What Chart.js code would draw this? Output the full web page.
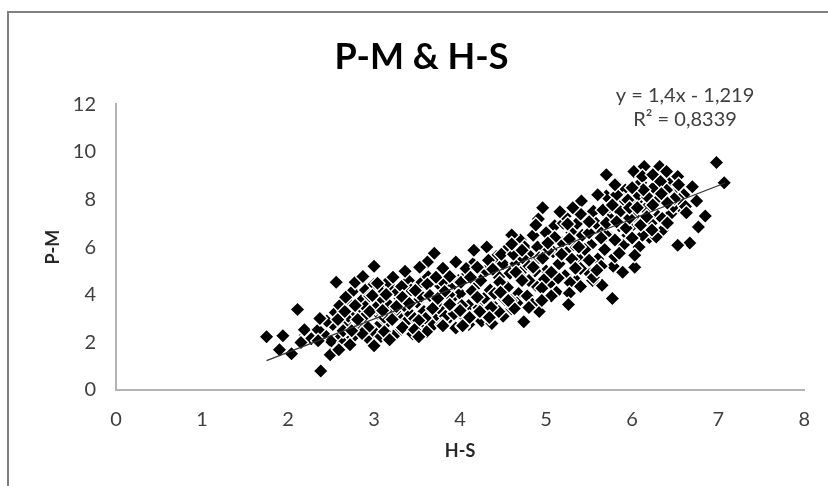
<!DOCTYPE html>
<html>
<head>
<meta charset="utf-8">
<title>P-M & H-S</title>
<script src="https://cdn.jsdelivr.net/npm/chart.js@4"></script>
<style>
  html, body { margin: 0; padding: 0; background: #fff; }
  body { width: 828px; height: 486px; overflow: hidden; position: relative; }
  #frame { position: absolute; left: 7px; top: 11px; right: 0; bottom: 0; border-left: 2px solid #808080; border-top: 2px solid #808080; }
  #box { position: absolute; left: 18px; top: 0; width: 810px; height: 486px; }
</style>
</head>
<body>
<div id="frame"></div>
<div id="box"><canvas id="scatter"></canvas></div>
<script>
// values, x and y go pair by pair
// first two blocks are the half hidden markers, they get painted over by the last block
const hsBack = [
  2.2,2.27,2.43,2.5,2.52,2.45,2.62,2.68,2.7,2.72,2.75,2.8,2.85,2.88,2.9,2.92,
  3.05,3.05,3.07,3.1,3.15,3.18,3.2,3.25,3.28,3.3,3.38,3.4,3.42,3.45,3.5,3.55,
  3.58,3.6,3.65,3.7,3.75,3.78,3.85,3.9,3.92,3.95,4.0,4.05,4.08,4.1,4.15,4.18,
  4.25,4.28,4.35,4.4,4.42,4.45,4.5,4.5,4.55,4.55,4.6,4.65,4.68,4.7,4.75,4.75,
  4.78,4.82,4.85,4.88,4.9,4.92,5.0,5.0,5.05,5.08,5.1,5.12,5.15,5.18,5.2,5.22,
  5.25,5.3,5.35,5.38,5.42,5.45,5.48,5.52,5.55,5.6,5.62,5.65,5.68,5.72,5.75,5.78,
  5.85,5.88,5.9,5.92,6.0,6.05,6.08,6.1,6.15,6.2,6.25,6.3,6.35,6.38,6.42,6.45,
  6.5,6.55,6.6
];
const pmBack = [
  2.3,2.15,2.3,2.05,2.75,2.9,2.25,2.75,3.1,3.6,4.15,3.2,3.75,3.05,4.2,2.2,
  2.7,3.2,3.65,4.2,2.85,3.55,4.3,2.35,3.15,3.85,2.9,4.6,3.2,2.35,3.7,4.5,
  3.3,2.75,4.0,3.05,4.45,3.35,2.95,4.35,3.9,2.6,4.05,3.05,4.85,3.55,5.3,4.35,
  2.9,3.85,4.2,3.5,5.6,4.75,3.1,5.3,4.3,5.95,3.4,5.3,4.05,6.3,5.1,6.0,
  3.95,5.6,6.5,4.4,6.0,3.3,5.0,6.6,4.5,5.8,6.9,4.1,5.3,6.2,7.0,4.8,
  5.8,6.6,4.6,5.5,6.5,7.3,5.0,6.1,7.5,5.5,6.7,4.4,5.9,7.3,6.4,5.2,
  6.9,7.4,6.1,8.4,6.9,7.9,6.0,8.7,7.6,6.4,8.5,7.3,6.7,7.9,8.7,7.4,
  8.3,7.7,8.2
];
const hsMiddle = [
  2.55,2.6,2.65,2.75,2.83,2.9,2.95,3.0,3.02,3.08,3.12,3.16,3.24,3.27,3.32,3.35,
  3.43,3.47,3.55,3.6,3.63,3.68,3.72,3.8,3.83,3.87,3.93,3.98,4.02,4.07,4.1,4.14,
  4.22,4.27,4.3,4.35,4.4,4.45,4.48,4.52,4.58,4.62,4.66,4.7,4.74,4.8,4.84,4.87,
  4.92,4.98,5.02,5.06,5.1,5.14,5.18,5.22,5.28,5.32,5.36,5.4,5.45,5.5,5.54,5.58,
  5.64,5.7,5.74,5.8,5.86,5.9,5.95,6.02,6.07,6.12,6.18,6.22,6.28,6.35,6.4,6.48,
  6.55,6.62
];
const pmMiddle = [
  3.25,3.55,2.0,2.2,2.7,3.5,3.95,2.45,3.45,2.25,3.05,4.55,3.3,4.1,2.55,3.55,
  4.2,3.0,3.95,3.0,4.75,2.7,3.6,4.55,3.1,4.0,3.2,4.6,3.55,5.1,2.75,4.15,
  3.45,4.9,3.3,5.2,4.05,3.3,5.7,3.8,4.9,5.7,3.65,4.75,5.5,5.2,3.6,5.0,
  5.55,4.65,5.85,3.95,6.4,4.7,5.7,7.3,4.5,6.1,7.0,5.1,5.9,6.6,4.6,7.0,
  5.2,6.5,7.7,5.6,7.5,8.0,6.5,7.3,8.2,6.5,8.1,7.0,7.9,7.2,8.4,7.7,
  8.0,7.7
];
const hsFront = [
  1.75,1.94,1.9,2.04,2.11,2.19,2.15,2.35,2.35,2.38,2.49,2.59,2.56,2.58,2.64,2.66,
  2.67,2.78,2.87,3.0,3.0,2.98,2.78,2.95,2.81,2.93,2.72,3.0,2.86,2.74,2.37,
  3.7,3.62,4.16,4.31,3.95,3.8,3.53,3.36,3.22,3.04,3.32,3.72,3.62,3.88,4.01,
  4.2,4.33,4.38,4.24,4.12,3.48,3.14,3.33,3.82,4.2,3.88,3.65,3.74,3.1,3.26,3.68,
  3.52,3.21,4.0,4.11,4.32,4.23,3.33,3.12,3.61,3.47,3.79,4.03,3.52,3.18,4.37,3.41,
  4.96,4.91,5.16,5.41,5.7,5.6,5.5,5.25,5.4,5.31,5.66,5.7,4.88,4.6,4.6,5.02,
  4.72,5.64,5.38,5.27,4.96,5.3,4.85,5.34,5.06,4.65,4.46,4.95,4.8,5.55,5.4,5.27,
  5.26,5.77,4.47,4.59,4.95,4.63,4.8,4.74,4.36,5.5,5.59,4.72,
  6.98,7.07,6.02,6.14,6.32,6.4,6.12,6.24,6.33,6.53,6.54,6.7,5.81,6.13,6.0,6.34,
  6.49,6.75,6.63,6.85,6.77,6.41,6.67,6.53,6.28,6.23,6.1,5.93,6.17,6.24,5.95,5.82,
  5.97,6.0,5.85,6.03,5.89,5.8,5.82,5.77,5.97,6.06,6.03,6.41,5.7,5.8,
  4.34,4.03,3.8,4.56
];
const pmFront = [
  2.24,2.28,1.69,1.52,3.38,2.53,1.99,2.53,2.07,0.8,1.48,1.69,4.52,2.96,2.49,3.3,
  3.89,4.52,4.77,5.2,4.44,3.97,3.55,3.3,2.96,2.62,1.9,1.86,2.37,2.49,3.0,
  5.74,5.37,5.87,6.0,5.37,5.11,5.15,4.99,4.73,4.48,4.35,4.73,4.44,4.77,4.52,
  5.15,5.45,5.07,4.6,4.73,4.18,4.01,3.89,4.14,3.89,3.59,3.97,3.84,3.34,3.51,3.42,
  2.92,2.96,3.34,3.04,3.08,3.3,2.62,2.45,2.45,2.53,2.75,2.66,2.24,2.11,2.79,3.63,
  7.65,7.18,7.48,7.94,8.15,8.2,7.06,6.97,7.39,7.65,7.56,7.01,6.93,6.51,6.13,6.17,
  5.87,6.38,6.0,6.34,5.53,5.49,5.15,5.11,4.94,4.94,4.52,4.27,4.6,4.73,4.35,4.06,
  3.59,3.84,4.1,3.76,3.76,3.42,3.46,2.87,3.46,5.45,5.03,4.6,
  9.55,8.7,9.17,9.38,9.38,9.17,8.96,9.04,8.75,8.96,8.62,8.53,8.66,8.41,8.49,8.24,
  8.03,7.94,7.44,7.31,6.84,7.01,6.17,6.08,6.42,6.72,6.93,6.8,7.27,7.77,7.98,8.2,
  7.22,6.38,5.74,5.15,4.94,6.3,7.06,7.77,7.65,7.65,5.66,7.85,9.04,8.62,
  3.04,2.7,2.7,3.76
];
const trendHs = [1.75, 7.08];
const trendPm = [1.231, 8.693];

const xTicks = [0, 1, 2, 3, 4, 5, 6, 7, 8];
const yTicks = [0, 2, 4, 6, 8, 10, 12];
const equationLines = ['y = 1,4x - 1,219', 'R² = 0,8339'];

const textFont = 'Lato, Carlito, sans-serif';
const textColor = '#3f3f3f';
const axisColor = '#b4b4b4';

function pairUp(xs, ys) {
  return xs.map((x, i) => ({ x: x, y: ys[i] }));
}

// trendline label sits top right, excel style
const equationLabel = {
  id: 'equationLabel',
  afterDraw(chart) {
    const ctx = chart.ctx;
    ctx.save();
    ctx.font = '20px ' + textFont;
    ctx.fillStyle = textColor;
    ctx.textAlign = 'center';
    ctx.textBaseline = 'middle';
    equationLines.forEach((line, i) => {
      ctx.fillText(line, chart.scales.x.getPixelForValue(6.58) + 3, 96 + i * 24);
    });
    ctx.restore();
  }
};

const scatterCanvas = document.getElementById('scatter');
let scatterChart = new Chart(scatterCanvas, {
  type: 'scatter',
  data: {
    datasets: [{
      data: pairUp(hsBack.concat(hsMiddle, hsFront), pmBack.concat(pmMiddle, pmFront)),
      pointStyle: 'rectRot',
      pointRadius: 7.5,
      pointBackgroundColor: '#000',
      pointBorderColor: '#fff',
      pointBorderWidth: 1.4,
      order: 2
    }, {
      type: 'line',
      data: pairUp(trendHs, trendPm),
      borderColor: '#333',
      borderWidth: 1.2,
      pointRadius: 0,
      fill: false,
      order: 1
    }]
  },
  options: {
    responsive: true,
    maintainAspectRatio: false,
    animation: { duration: 0 },
    layout: { padding: { left: 20, right: 23, top: 0, bottom: 0 } },
    scales: {
      x: {
        type: 'linear',
        min: 0,
        max: 8,
        grid: { display: false, drawTicks: false },
        border: { color: axisColor, width: 2 },
        afterBuildTicks: axis => { axis.ticks = xTicks.map(v => ({ value: v })); },
        ticks: { padding: 18, maxRotation: 0, color: textColor, font: { family: textFont, size: 20 } },
        title: { display: true, text: 'H-S', color: '#262626', padding: { top: 9, bottom: 24 }, font: { family: textFont, size: 18, weight: 'bold' } },
        afterFit: axis => { axis.height = 96; }
      },
      y: {
        min: 0,
        max: 12,
        grid: { display: false, drawTicks: false },
        border: { color: axisColor, width: 2 },
        afterBuildTicks: axis => { axis.ticks = yTicks.map(v => ({ value: v })); },
        ticks: { padding: 20, color: textColor, font: { family: textFont, size: 20 } },
        title: { display: true, text: 'P-M', color: '#262626', padding: { top: 4, bottom: 8 }, font: { family: textFont, size: 18, weight: 'bold' } },
        afterFit: axis => { axis.width = 78; }
      }
    },
    plugins: {
      legend: { display: false },
      tooltip: { enabled: false },
      title: {
        display: true,
        text: 'P-M & H-S',
        color: '#000',
        padding: { top: 36, bottom: 25 },
        font: { family: textFont, size: 36, weight: 'bold' }
      }
    }
  },
  plugins: [equationLabel]
});
</script>
</body>
</html>
